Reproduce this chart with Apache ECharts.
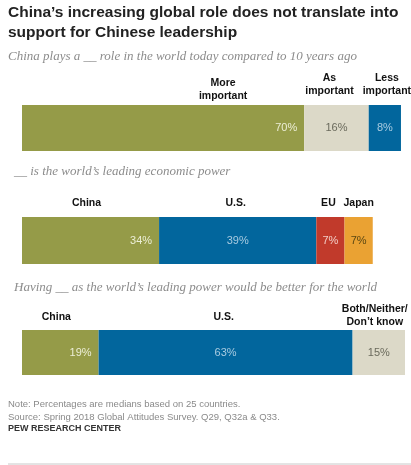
<!DOCTYPE html>
<html>
<head>
<meta charset="utf-8">
<script src="https://cdn.jsdelivr.net/npm/echarts@6/dist/echarts.min.js"></script>
<style>
  html, body { margin: 0; padding: 0; background: #ffffff; }
  #chart { width: 411px; height: 465px; }
</style>
</head>
<body>
<div id="chart"></div>
<script>
// ---- Texts ----
const titleText = "China\u2019s increasing global role does not translate into\nsupport for Chinese leadership";
const question1 = "China plays a __ role in the world today compared to 10 years ago";
const question2 = "__ is the world\u2019s leading economic power";
const question3 = "Having __ as the world\u2019s leading power would be better for the world";
const noteText = "Note: Percentages are medians based on 25 countries.\nSource: Spring 2018 Global Attitudes Survey. Q29, Q32a & Q33.";
const sourceText = "PEW RESEARCH CENTER";

// ---- Data ----
const roleCategories = ["More\nimportant", "As\nimportant", "Less\nimportant"];
const roleValues = [70, 16, 8];

const econCategories = ["China", "U.S.", "EU", "Japan"];
const econValues = [34, 39, 7, 7];

const betterCategories = ["China", "U.S.", "Both/Neither/\nDon\u2019t know"];
const betterValues = [19, 63, 15];

// ---- Styles ----
const GREEN = "#959b48", BEIGE = "#dcd9c8", BLUE = "#02669d", RED = "#c13a2b", ORANGE = "#eaa233";
const panels = [
  { cats: roleCategories, vals: roleValues,
    colors: [GREEN, BEIGE, BLUE],
    textColors: ["#eceed6", "#6a6a5c", "#a9cbe0"],
    pos: ["insideRight", "inside", "inside"],
    nameOffsets: [[60, 3], [-7, -2], [2, -2]],
    grid: { top: 105, height: 46 } },
  { cats: econCategories, vals: econValues,
    colors: [GREEN, BLUE, RED, ORANGE],
    textColors: ["#eceed6", "#a9cbe0", "#f2cdc6", "#5a4712"],
    pos: ["insideRight", "inside", "inside", "inside"],
    nameOffsets: [[-4, -2], [-2, -2], [-2, -2], [0, -2]],
    grid: { top: 217, height: 47 } },
  { cats: betterCategories, vals: betterValues,
    colors: [GREEN, BLUE, BEIGE],
    textColors: ["#eceed6", "#a9cbe0", "#6a6a5c"],
    pos: ["insideRight", "inside", "inside"],
    nameOffsets: [[-4, -1], [-2, -1], [-4, 4]],
    grid: { top: 330, height: 45 } }
];

const grids = [], xAxes = [], yAxes = [], series = [];
panels.forEach((p, i) => {
  grids.push({ left: 22, width: 383, top: p.grid.top, height: p.grid.height });
  xAxes.push({ type: "value", gridIndex: i, min: 0, max: 95, show: false });
  yAxes.push({ type: "category", gridIndex: i, data: ["x"], show: false });
  p.vals.forEach((v, j) => {
    series.push({
      type: "bar", xAxisIndex: i, yAxisIndex: i, stack: "v" + i,
      barWidth: "100%", barGap: "-100%", silent: true, clip: true,
      data: [v],
      itemStyle: { color: p.colors[j] },
      label: {
        show: true, position: p.pos[j], distance: 7,
        formatter: "{c}%", color: p.textColors[j],
        fontFamily: "Liberation Sans", fontSize: 11
      }
    });
  });
  p.vals.forEach((v, j) => {
    series.push({
      type: "bar", xAxisIndex: i, yAxisIndex: i, stack: "n" + i,
      barWidth: "100%", barGap: "-100%", silent: true, clip: true,
      data: [v],
      itemStyle: { color: "rgba(0,0,0,0)" },
      label: {
        show: true, position: "top", distance: 6, offset: p.nameOffsets[j],
        formatter: p.cats[j], color: "#111",
        fontFamily: "Liberation Sans", fontWeight: "bold", fontSize: 10.5, lineHeight: 12.5,
        align: "center"
      }
    });
  });
});

const serifItalic = { fontFamily: "Liberation Serif", fontStyle: "italic", fontWeight: "normal", fontSize: 13, color: "#8c8c8c" };

const chart = echarts.init(document.getElementById("chart"), null, { renderer: "canvas" });
chart.setOption({
  animation: false,
  backgroundColor: "#ffffff",
  title: [
    { text: titleText, left: 8, top: 3, padding: 0,
      textStyle: { fontFamily: "Liberation Sans", fontWeight: "bold", fontSize: 15.5, lineHeight: 19.5, color: "#222" } },
    { text: question1, left: 8, top: 50, padding: 0, textStyle: serifItalic },
    { text: question2, left: 14, top: 165, padding: 0, textStyle: serifItalic },
    { text: question3, left: 14, top: 281, padding: 0, textStyle: serifItalic },
    { text: noteText, left: 8, top: 398, padding: 0,
      textStyle: { fontFamily: "Liberation Sans", fontWeight: "normal", fontSize: 9.5, lineHeight: 13, color: "#8a8a8a" } },
    { text: sourceText, left: 8, top: 424, padding: 0,
      textStyle: { fontFamily: "Liberation Sans", fontWeight: "bold", fontSize: 9, color: "#333" } }
  ],
  graphic: [
    { type: "line", shape: { x1: 8, y1: 464, x2: 411, y2: 464 }, style: { stroke: "#c8c8c8", lineWidth: 1 } }
  ],
  grid: grids,
  xAxis: xAxes,
  yAxis: yAxes,
  series: series
});
</script>
</body>
</html>
